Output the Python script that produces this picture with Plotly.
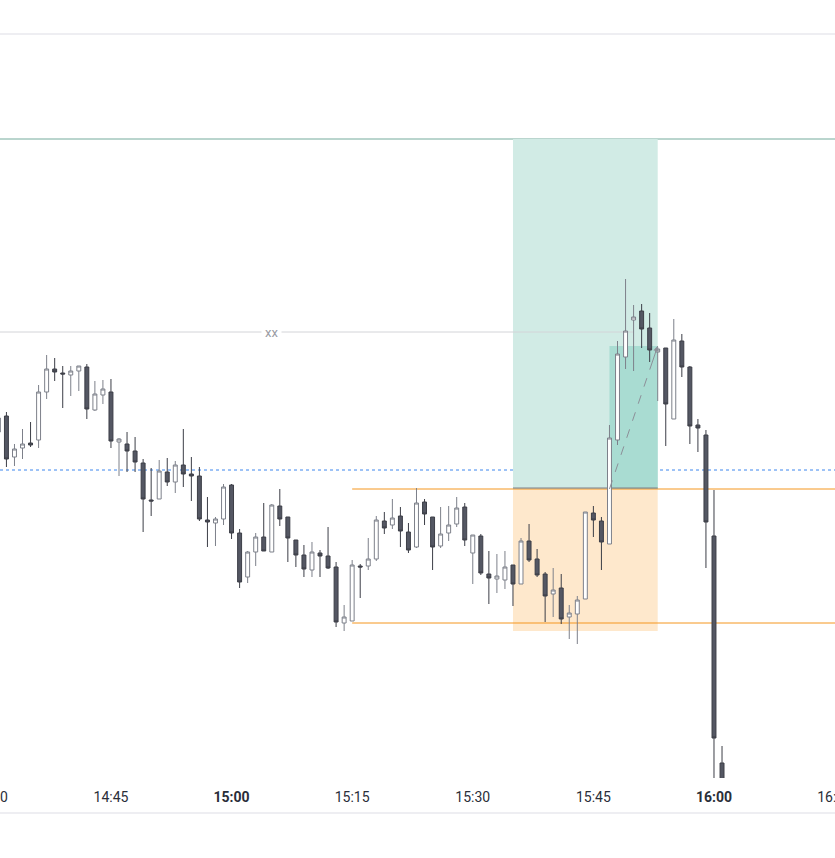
import plotly.graph_objects as go
import pandas as pd

# ---------------- data ----------------
day = "2024-03-15 "
times = pd.date_range(day + "14:31", day + "16:01", freq="1min")

open_ = [1.08426, 1.08442, 1.08401, 1.08410, 1.08415, 1.08418, 1.08466, 1.08489, 1.08485, 1.08483,
         1.08487, 1.08491, 1.08448, 1.08463, 1.08466, 1.08416, 1.08414, 1.08407, 1.08395, 1.08358,
         1.08359, 1.08386, 1.08376, 1.08393, 1.08384, 1.08382, 1.08338, 1.08335, 1.08339, 1.08373,
         1.08325, 1.08281, 1.08306, 1.08321, 1.08306, 1.08352, 1.08341, 1.08318, 1.08303, 1.08288,
         1.08305, 1.08302, 1.08291, 1.08235, 1.08237, 1.08292, 1.08292, 1.08299, 1.08337, 1.08333,
         1.08342, 1.08326, 1.08311, 1.08356, 1.08341, 1.08312, 1.08325, 1.08334, 1.08351, 1.08305,
         1.08322, 1.08284, 1.08279, 1.08278, 1.08293, 1.08274, 1.08317, 1.08299, 1.08284, 1.08264,
         1.08270, 1.08241, 1.08244, 1.08259, 1.08345, 1.08337, 1.08314, 1.08418, 1.08501, 1.08538,
         1.08547, 1.08530, 1.08506, 1.08510, 1.08439, 1.08517, 1.08491, 1.08433, 1.08423, 1.08322,
         1.08095]
high = [1.08444, 1.08446, 1.08414, 1.08429, 1.08436, 1.08473, 1.08503, 1.08500, 1.08492, 1.08492,
        1.08492, 1.08494, 1.08477, 1.08478, 1.08479, 1.08420, 1.08426, 1.08421, 1.08399, 1.08390,
        1.08398, 1.08400, 1.08397, 1.08429, 1.08401, 1.08391, 1.08361, 1.08341, 1.08374, 1.08374,
        1.08329, 1.08307, 1.08325, 1.08355, 1.08354, 1.08369, 1.08341, 1.08318, 1.08313, 1.08316,
        1.08308, 1.08331, 1.08296, 1.08253, 1.08298, 1.08294, 1.08320, 1.08342, 1.08346, 1.08359,
        1.08351, 1.08335, 1.08370, 1.08359, 1.08341, 1.08351, 1.08352, 1.08361, 1.08355, 1.08323,
        1.08324, 1.08307, 1.08304, 1.08307, 1.08293, 1.08320, 1.08334, 1.08309, 1.08286, 1.08290,
        1.08284, 1.08253, 1.08262, 1.08346, 1.08352, 1.08341, 1.08433, 1.08517, 1.08579, 1.08553,
        1.08554, 1.08545, 1.08511, 1.08510, 1.08539, 1.08524, 1.08492, 1.08439, 1.08428, 1.08368,
        1.08112]
low = [1.08422, 1.08391, 1.08392, 1.08399, 1.08411, 1.08410, 1.08459, 1.08477, 1.08450, 1.08462,
       1.08467, 1.08439, 1.08447, 1.08454, 1.08410, 1.08382, 1.08386, 1.08386, 1.08326, 1.08342,
       1.08359, 1.08372, 1.08365, 1.08371, 1.08357, 1.08337, 1.08311, 1.08312, 1.08333, 1.08319,
       1.08270, 1.08275, 1.08292, 1.08307, 1.08306, 1.08332, 1.08296, 1.08291, 1.08281, 1.08281,
       1.08281, 1.08289, 1.08231, 1.08227, 1.08237, 1.08260, 1.08288, 1.08297, 1.08324, 1.08329,
       1.08311, 1.08305, 1.08310, 1.08333, 1.08288, 1.08310, 1.08317, 1.08331, 1.08312, 1.08274,
       1.08283, 1.08254, 1.08265, 1.08269, 1.08252, 1.08274, 1.08296, 1.08281, 1.08236, 1.08241,
       1.08234, 1.08219, 1.08214, 1.08259, 1.08321, 1.08288, 1.08314, 1.08413, 1.08489, 1.08487,
       1.08510, 1.08496, 1.08457, 1.08412, 1.08439, 1.08481, 1.08414, 1.08406, 1.08290, 1.08068,
       1.08046]
close = [1.08440, 1.08399, 1.08409, 1.08414, 1.08413, 1.08466, 1.08489, 1.08486, 1.08484, 1.08487,
         1.08492, 1.08449, 1.08464, 1.08469, 1.08417, 1.08419, 1.08407, 1.08396, 1.08359, 1.08357,
         1.08387, 1.08376, 1.08393, 1.08384, 1.08382, 1.08339, 1.08336, 1.08339, 1.08371, 1.08325,
         1.08276, 1.08306, 1.08321, 1.08307, 1.08353, 1.08339, 1.08320, 1.08303, 1.08289, 1.08306,
         1.08302, 1.08290, 1.08236, 1.08241, 1.08293, 1.08291, 1.08299, 1.08338, 1.08330, 1.08340,
         1.08327, 1.08308, 1.08355, 1.08344, 1.08311, 1.08324, 1.08333, 1.08350, 1.08318, 1.08323,
         1.08285, 1.08280, 1.08282, 1.08291, 1.08274, 1.08317, 1.08298, 1.08283, 1.08262, 1.08268,
         1.08239, 1.08245, 1.08258, 1.08346, 1.08338, 1.08316, 1.08420, 1.08504, 1.08527, 1.08541,
         1.08529, 1.08508, 1.08509, 1.08454, 1.08518, 1.08491, 1.08432, 1.08430, 1.08336, 1.08120,
         1.08058]

tick_labels = ["14:30", "14:45", "15:00", "15:15", "15:30", "15:45", "16:00", "16:15"]

# position tool levels
entry_price = 1.08369
target_price = 1.08719
stop_price = 1.08227
last_price = 1.08512
pos_start = day + "15:35"
pos_entry_fill = day + "15:47"
pos_end = day + "15:53"

# horizontal levels
level_xx = 1.08526
level_xx_end = day + "15:50"
level_xx_label_time = day + "15:05"
level_orange_1 = 1.08369
level_orange_2 = 1.08235
level_orange_start = day + "15:15"
level_blue = 1.08388

x_range = [day + "14:31:12", day + "16:15:03"]
y_range = [1.08080, 1.08824]

# ---------------- figure ----------------
fig = go.Figure()
fig.add_trace(go.Candlestick(
    x=times, open=open_, high=high, low=low, close=close,
    increasing=dict(fillcolor="#ffffff", line=dict(color="#7d808a", width=1)),
    decreasing=dict(fillcolor="#545763", line=dict(color="#3c3e47", width=1)),
    whiskerwidth=0, hoverinfo="skip", showlegend=False,
))

shapes = []
shapes.append(dict(type="rect", xref="x", yref="y", x0=pos_start, x1=pos_end,
                   y0=entry_price, y1=target_price, fillcolor="#d1ebe5",
                   line=dict(width=0), layer="below"))
shapes.append(dict(type="rect", xref="x", yref="y", x0=pos_entry_fill, x1=pos_end,
                   y0=entry_price, y1=last_price, fillcolor="#a9dcd2",
                   line=dict(width=0), layer="below"))
shapes.append(dict(type="rect", xref="x", yref="y", x0=pos_start, x1=pos_end,
                   y0=stop_price, y1=entry_price, fillcolor="#fee8cc",
                   line=dict(width=0), layer="below"))
shapes.append(dict(type="line", xref="paper", yref="y", x0=0, x1=1,
                   y0=target_price, y1=target_price,
                   line=dict(color="#74ab9c", width=1), layer="below"))
shapes.append(dict(type="line", xref="x", yref="y", x0=x_range[0], x1=level_xx_end,
                   y0=level_xx, y1=level_xx,
                   line=dict(color="#d3d4d8", width=1), layer="below"))
shapes.append(dict(type="line", xref="paper", yref="y", x0=0, x1=1,
                   y0=level_blue, y1=level_blue,
                   line=dict(color="#3d86ee", width=1, dash="dot"), layer="below"))
for lv in (level_orange_1, level_orange_2):
    shapes.append(dict(type="line", xref="x", yref="y", x0=level_orange_start, x1=x_range[1],
                       y0=lv, y1=lv, line=dict(color="#f5961f", width=1), layer="below"))
shapes.append(dict(type="line", xref="x", yref="y", x0=pos_start, x1=pos_end,
                   y0=entry_price + 0.00001, y1=entry_price + 0.00001,
                   line=dict(color="#7c7f88", width=1), layer="below"))
shapes.append(dict(type="line", xref="x", yref="y", x0=pos_entry_fill, x1=pos_end,
                   y0=entry_price, y1=last_price,
                   line=dict(color="#8c8f98", width=1, dash="dash")))

fig_h = 858
plot_top_px, plot_bottom_px, bottom_line_px, label_px = 34, 778, 813, 797
plot_h = plot_bottom_px - plot_top_px
shapes.append(dict(type="line", xref="paper", yref="paper", x0=0, x1=1, y0=1, y1=1,
                   line=dict(color="#eeeef2", width=2)))
shapes.append(dict(type="line", xref="paper", yref="paper", x0=0, x1=1,
                   y0=-(bottom_line_px - plot_bottom_px) / plot_h,
                   y1=-(bottom_line_px - plot_bottom_px) / plot_h,
                   line=dict(color="#eeeef2", width=2)))

annotations = []
annotations.append(dict(x=level_xx_label_time, y=level_xx, xref="x", yref="y", text="xx",
                        showarrow=False, bgcolor="#ffffff", borderpad=3,
                        font=dict(family="Roboto", size=13, color="#9a9ca4")))
t_fill = pd.Timestamp(pos_entry_fill)
t_end = pd.Timestamp(pos_end)
frac = 0.12
ax_t = t_end - (t_end - t_fill) * frac
ay_p = last_price - (last_price - entry_price) * frac
annotations.append(dict(x=t_end, y=last_price, ax=ax_t, ay=ay_p, xref="x", yref="y",
                        axref="x", ayref="y", text="", showarrow=True, arrowhead=2,
                        arrowsize=1.1, arrowwidth=1, arrowcolor="#8c8f98"))

def fmt(lbl):
    return f"<b>{lbl}</b>" if lbl.endswith(":00") else lbl

tick_times = pd.date_range(day + "14:30", day + "16:15", freq="15min")
x0 = pd.Timestamp(x_range[0]); x1 = pd.Timestamp(x_range[1])
first_frac = (tick_times[0] - x0) / (x1 - x0)
annotations.append(dict(x=first_frac, y=-(label_px - plot_bottom_px) / plot_h, xref="paper",
                        yref="paper", text=fmt(tick_labels[0]), showarrow=False,
                        xanchor="center", yanchor="middle",
                        font=dict(family="Roboto", size=14, color="#2a2e39")))

fig.update_layout(
    width=835, height=fig_h,
    margin=dict(l=0, r=0, t=plot_top_px, b=fig_h - plot_bottom_px, autoexpand=False),
    paper_bgcolor="#ffffff", plot_bgcolor="#ffffff",
    showlegend=False,
    shapes=shapes, annotations=annotations,
    xaxis=dict(type="date", range=x_range, rangeslider=dict(visible=False),
               showgrid=False, zeroline=False, showline=False, automargin=False,
               tickvals=list(tick_times[1:]), ticktext=[fmt(t) for t in tick_labels[1:]],
               ticks="outside", ticklen=6, tickcolor="rgba(0,0,0,0)",
               ticklabeloverflow="allow",
               tickfont=dict(family="Roboto", size=14, color="#2a2e39"),
               fixedrange=True),
    yaxis=dict(range=y_range, visible=False, showgrid=False, fixedrange=True),
    hovermode=False,
)

fig.write_html("out.html", config={"responsive": False, "displayModeBar": False})
